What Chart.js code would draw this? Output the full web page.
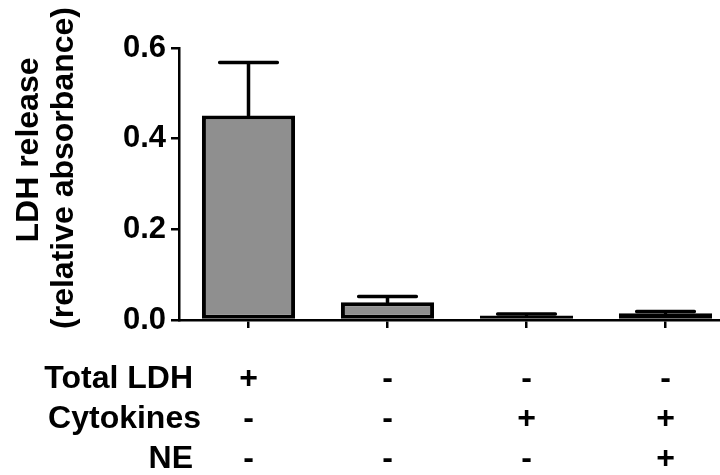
<!DOCTYPE html>
<html>
<head>
<meta charset="utf-8">
<script src="https://cdn.jsdelivr.net/npm/chart.js@4.4.1/dist/chart.umd.min.js"></script>
<style>
  html, body { margin: 0; padding: 0; background: #fff; overflow: hidden; }
  #wrap { width: 760px; height: 475px; }
</style>
</head>
<body>
<div id="wrap"><canvas id="ldhChart" width="760" height="475"></canvas></div>
<script>
// data
var groups = ["Total LDH", "Control", "Cytokines", "Cytokines + NE"];
var ldhMeans = [0.451, 0.039, 0.010, 0.015];
var ldhErrors = [0.117, 0.013, 0.003, 0.004];
var yTickValues = [0, 0.2, 0.4, 0.6];
var rowNames = ["Total LDH", "Cytokines", "NE"];
var totalLDH = ["+", "-", "-", "-"];
var cytokines = ["-", "-", "+", "+"];
var ne = ["-", "-", "-", "+"];
var yTitle = ["LDH release", "(relative absorbance)"];

var FONT = "'Liberation Sans', Arial, sans-serif";
var TICK_LEN = 8;
var X_PAD = 31;
var ROW_H = 40;

// error bars, row captions and the axis title
var extras = {
  id: "extras",
  afterDatasetsDraw: function (chart) {
    var ctx = chart.ctx;
    var y = chart.scales.y;
    var meta = chart.getDatasetMeta(0);
    ctx.save();
    ctx.strokeStyle = "#000";
    ctx.lineWidth = 3.5;
    ctx.lineCap = "round";
    meta.data.forEach(function (bar, i) {
      var top = y.getPixelForValue(ldhMeans[i] + ldhErrors[i]);
      var half = bar.width * 0.31;
      ctx.beginPath();
      ctx.moveTo(bar.x, bar.y);
      ctx.lineTo(bar.x, top);
      ctx.moveTo(bar.x - half, top);
      ctx.lineTo(bar.x + half, top);
      ctx.stroke();
    });
    ctx.restore();
  },
  afterDraw: function (chart) {
    var ctx = chart.ctx;
    var x = chart.scales.x;
    ctx.save();
    ctx.fillStyle = "#000";
    ctx.font = "bold 32px " + FONT;
    ctx.textAlign = "right";
    ctx.textBaseline = "middle";
    var rowRight = [193, 201, 193];
    rowNames.forEach(function (name, r) {
      var yy = x.top + TICK_LEN + X_PAD + ROW_H * (r + 0.5);
      ctx.fillText(name, rowRight[r], yy);
    });
    // rotated y title, two lines
    ctx.textAlign = "center";
    var cx = [29, 64], cy = [150, 168];
    yTitle.forEach(function (line, i) {
      ctx.save();
      ctx.translate(cx[i], cy[i]);
      ctx.rotate(-Math.PI / 2);
      ctx.fillText(line, 0, 0);
      ctx.restore();
    });
    ctx.restore();
  }
};

var ctx = document.getElementById("ldhChart");
var ldhChart = new Chart(ctx, {
  type: "bar",
  data: {
    labels: groups,
    datasets: [
      {
        data: ldhMeans,
        backgroundColor: "#8f8f8f",
        borderColor: "#000",
        borderWidth: 4,
        borderSkipped: false,
        barPercentage: 0.67,
        categoryPercentage: 1
      }
    ]
  },
  options: {
    responsive: false,
    animation: false,
    layout: { padding: { left: 0, right: 25, top: 48, bottom: 0 } },
    plugins: { legend: { display: false }, tooltip: { enabled: false } },
    scales: {
      x: {
        border: { color: "#000", width: 2.5 },
        grid: { drawOnChartArea: false, offset: false, tickLength: TICK_LEN, color: "#000", lineWidth: 2.5 },
        ticks: {
          padding: X_PAD,
          color: "#000",
          autoSkip: false,
          maxRotation: 0,
          font: { family: FONT, size: 32, weight: "bold", lineHeight: ROW_H + "px" },
          callback: function (v, i) { return [totalLDH[i], cytokines[i], ne[i]]; }
        },
        afterFit: function (s) { s.height = 155; }
      },
      y: {
        min: 0,
        max: 0.6,
        border: { color: "#000", width: 2.5 },
        grid: { drawOnChartArea: false, tickLength: TICK_LEN, color: "#000", lineWidth: 2.5 },
        ticks: {
          padding: 5,
          color: "#000",
          font: { family: FONT, size: 31, weight: "bold" },
          callback: function (v) { return v.toFixed(1); }
        },
        afterBuildTicks: function (s) { s.ticks = yTickValues.map(function (v) { return { value: v }; }); },
        afterFit: function (s) { s.width = 179; }
      }
    }
  },
  plugins: [extras]
});
</script>
</body>
</html>
